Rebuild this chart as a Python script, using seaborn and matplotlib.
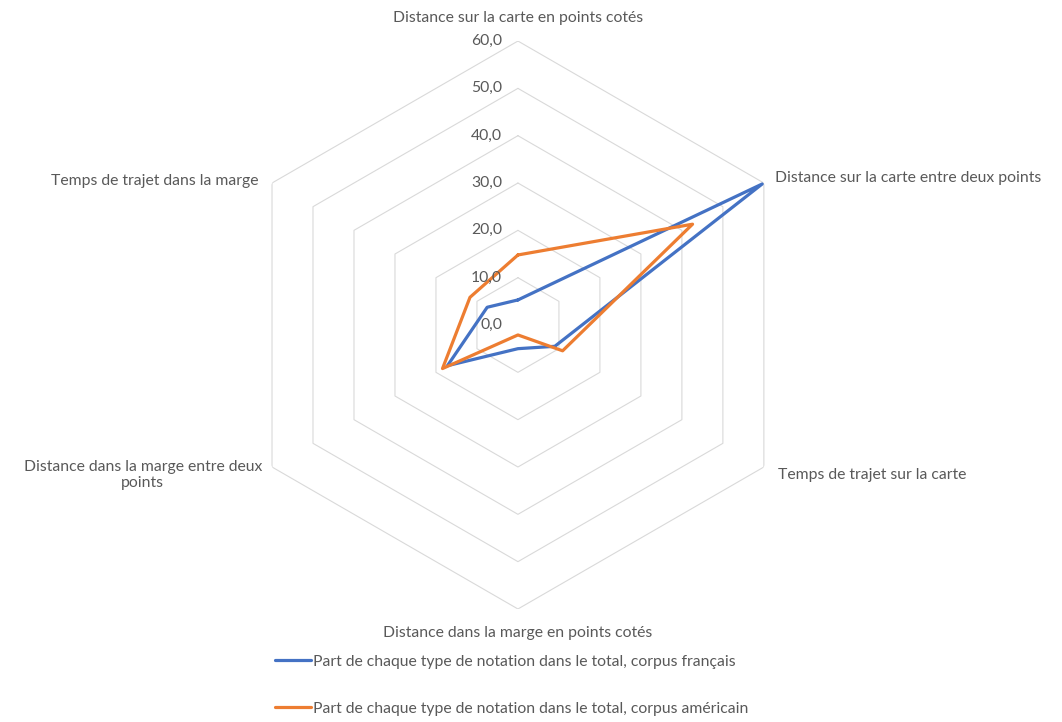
import matplotlib
matplotlib.use("Agg")
import matplotlib.pyplot as plt
from matplotlib.lines import Line2D
import numpy as np
import pandas as pd
import seaborn as sns

categories = [
    "Distance sur la carte en points cotés",
    "Distance sur la carte entre deux points",
    "Temps de trajet sur la carte",
    "Distance dans la marge en points cotés",
    "Distance dans la marge entre deux\npoints",
    "Temps de trajet dans la marge",
]
series_names = [
    "Part de chaque type de notation dans le total, corpus français",
    "Part de chaque type de notation dans le total, corpus américain",
]
fr_values = [5.3, 59.6, 9.0, 5.0, 17.2, 7.5]
us_values = [14.8, 42.6, 10.9, 2.1, 18.4, 11.7]
ring_levels = [0, 10, 20, 30, 40, 50, 60]

COLORS = ["#4472C4", "#ED7D31"]
GRID = "#D9D9D9"
TEXT = "#595959"
FS = 11.3

sns.set_theme(style="white")
plt.rcParams["font.family"] = ["Lato", "DejaVu Sans"]

n = len(categories)
angles = np.arange(n) * 2 * np.pi / n
closed = np.append(angles, angles[0] + 2 * np.pi)

# long-form table, first point repeated to close each polygon
rows = []
for name, vals in zip(series_names, [fr_values, us_values]):
    for th, v in zip(closed, vals + vals[:1]):
        rows.append({"theta": th, "value": v, "series": name})
df = pd.DataFrame(rows)

fig = plt.figure(figsize=(10.62, 7.22), dpi=100)
ax = fig.add_axes([0.2203, 0.1565, 0.5348, 0.7867], projection="polar")
ax.set_theta_zero_location("N")
ax.set_theta_direction(-1)

# hexagonal grid
for lvl in ring_levels[1:]:
    ax.plot(closed, [lvl] * len(closed), color=GRID, lw=0.8, zorder=1)

sns.lineplot(data=df, x="theta", y="value", hue="series", palette=COLORS,
             sort=False, estimator=None, lw=2.3, ax=ax, legend=False, zorder=3)

ax.set_ylim(0, 60)
ax.grid(False)
ax.set_xticks([])
ax.set_yticks([])
ax.spines["polar"].set_visible(False)
ax.set_xlabel("")
ax.set_ylabel("")

# radial tick labels along the top axis
for lvl in ring_levels:
    ax.annotate(f"{lvl:.1f}".replace(".", ","), xy=(0, lvl), xytext=(-16, 0),
                textcoords="offset pixels", ha="right", va="center",
                fontsize=FS, color=TEXT)

# category labels around the outer ring
label_pos = [(0, 23, "center"), (11, 5, "left"), (14, -8, "left"),
             (0, -24, "center"), (-10, -8, "right"), (-14, 2, "right")]
for th, lab, (dx, dy, ha) in zip(angles, categories, label_pos):
    ax.annotate(lab, xy=(th, 60), xytext=(dx, dy), textcoords="offset pixels",
                ha=ha, va="center", multialignment="center",
                fontsize=FS, color=TEXT)

handles = [Line2D([], [], color=c, lw=2.3) for c in COLORS]
leg = fig.legend(handles, series_names, loc="center", bbox_to_anchor=(0.482, 0.051),
                 frameon=False, labelspacing=2.1, handlelength=2.3,
                 handletextpad=0.15, fontsize=FS)
for t in leg.get_texts():
    t.set_color(TEXT)

fig.savefig("out.png", dpi=100)
